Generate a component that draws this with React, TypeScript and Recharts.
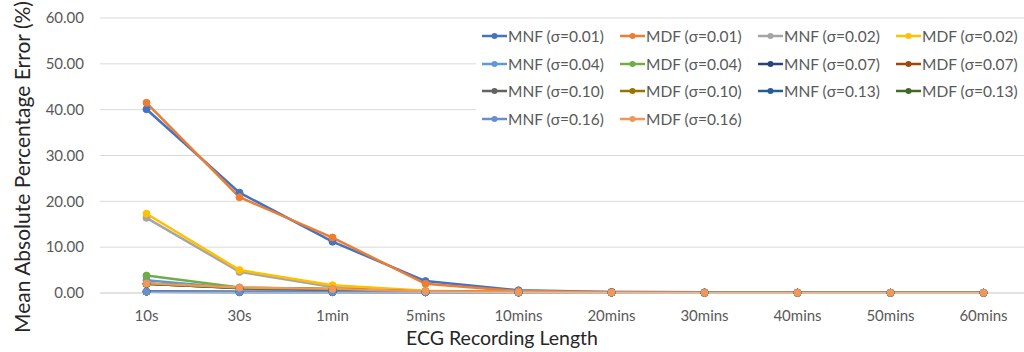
import React from 'react';
import { LineChart, Line, XAxis, YAxis, CartesianGrid } from 'recharts';

const lengths = ['10s', '30s', '1min', '5mins', '10mins', '20mins', '30mins', '40mins', '50mins', '60mins'];
const yTicks = [0, 10, 20, 30, 40, 50, 60];

const mnf001 = [40.1, 21.9, 11.2, 2.6, 0.6, 0.2, 0.15, 0.1, 0.05, 0.05];
const mdf001 = [41.5, 20.9, 12.1, 2.0, 0.4, 0.2, 0.15, 0.1, 0.05, 0.05];
const mnf002 = [16.4, 4.6, 1.3, 0.4, 0.2, 0.1, 0.1, 0.05, 0.05, 0.05];
const mdf002 = [17.3, 5.0, 1.7, 0.5, 0.2, 0.1, 0.1, 0.05, 0.05, 0.05];
const mnf004 = [2.8, 1.0, 0.6, 0.3, 0.1, 0.1, 0.05, 0.05, 0.05, 0.05];
const mdf004 = [3.8, 1.2, 0.8, 0.3, 0.15, 0.1, 0.05, 0.05, 0.05, 0.05];
const mnf007 = [0.3, 0.2, 0.2, 0.15, 0.1, 0.1, 0.05, 0.05, 0.05, 0.05];
const mdf007 = [2.0, 1.1, 0.8, 0.3, 0.15, 0.1, 0.05, 0.05, 0.05, 0.05];
const mnf010 = [0.3, 0.2, 0.2, 0.15, 0.1, 0.1, 0.05, 0.05, 0.05, 0.05];
const mdf010 = [2.0, 1.1, 0.8, 0.3, 0.15, 0.1, 0.05, 0.05, 0.05, 0.05];
const mnf013 = [0.3, 0.2, 0.2, 0.15, 0.1, 0.1, 0.05, 0.05, 0.05, 0.05];
const mdf013 = [2.0, 1.1, 0.8, 0.3, 0.15, 0.1, 0.05, 0.05, 0.05, 0.05];
const mnf016 = [0.3, 0.2, 0.2, 0.15, 0.1, 0.1, 0.05, 0.05, 0.05, 0.05];
const mdf016 = [2.1, 1.2, 0.9, 0.4, 0.2, 0.1, 0.05, 0.05, 0.05, 0.05];

const series = [
  { key: 'MNF (σ=0.01)', values: mnf001, color: '#4472C4' },
  { key: 'MDF (σ=0.01)', values: mdf001, color: '#ED7D31' },
  { key: 'MNF (σ=0.02)', values: mnf002, color: '#A5A5A5' },
  { key: 'MDF (σ=0.02)', values: mdf002, color: '#FFC000' },
  { key: 'MNF (σ=0.04)', values: mnf004, color: '#5B9BD5' },
  { key: 'MDF (σ=0.04)', values: mdf004, color: '#70AD47' },
  { key: 'MNF (σ=0.07)', values: mnf007, color: '#264478' },
  { key: 'MDF (σ=0.07)', values: mdf007, color: '#9E480E' },
  { key: 'MNF (σ=0.10)', values: mnf010, color: '#636363' },
  { key: 'MDF (σ=0.10)', values: mdf010, color: '#997300' },
  { key: 'MNF (σ=0.13)', values: mnf013, color: '#255E91' },
  { key: 'MDF (σ=0.13)', values: mdf013, color: '#43682B' },
  { key: 'MNF (σ=0.16)', values: mnf016, color: '#698ED0' },
  { key: 'MDF (σ=0.16)', values: mdf016, color: '#F1975A' },
];

const data = lengths.map((len, i) => {
  const row: Record<string, string | number> = { len };
  series.forEach((s) => { row[s.key] = s.values[i]; });
  return row;
});

const font = 'Lato, "Open Sans", sans-serif';

// legend sits on a white box over the top-right of the plot, like the original
const LegendBox = () => (
  <div style={{ position: 'absolute', left: 476, top: 27, width: 548, height: 104, paddingLeft: 6, boxSizing: 'border-box', display: 'grid', gridTemplateColumns: 'repeat(4, 138px)', gridAutoRows: 18, rowGap: 9.5, background: '#fff', fontFamily: font, fontSize: 15.5, color: '#595959' }}>
    {series.map((s) => (
      <div key={s.key} style={{ display: 'flex', alignItems: 'center', height: 18, whiteSpace: 'nowrap' }}>
        <svg width={25} height={10} style={{ marginRight: 1 }}>
          <line x1={0} y1={5} x2={25} y2={5} stroke={s.color} strokeWidth={2.5} />
          <circle cx={12.5} cy={5} r={3} fill={s.color} />
        </svg>
        {s.key}
      </div>
    ))}
  </div>
);

const YTitle = () => (
  <text
    transform="translate(21,167) rotate(-90)"
    textAnchor="middle"
    dominantBaseline="central"
    fill="#262626"
    fontSize={21}
    fontFamily={font}
  >
    Mean Absolute Percentage Error (%)
  </text>
);

export default function App() {
  return (
    <div style={{ position: 'absolute', left: 0, top: 0, width: 1024, height: 352, overflow: 'hidden', background: '#fff' }}>
      <LineChart width={1030} height={352} data={data} margin={{ top: 18, right: 0, left: 0, bottom: 0 }}>
        <CartesianGrid vertical={false} stroke="#d9d9d9" strokeWidth={1} />
        <XAxis
          dataKey="len"
          axisLine={{ stroke: '#d9d9d9' }}
          tickLine={false}
          tickMargin={11}
          interval={0}
          padding={{ left: 46.5, right: 46.5 }}
          tick={{ fill: '#595959', fontSize: 15, fontFamily: font }}
          height={59}
          label={{ value: 'ECG Recording Length', position: 'insideBottom', offset: 7, dx: -63, fill: '#262626', fontSize: 19.5, fontFamily: font }}
        />
        <YAxis
          domain={[0, 60]}
          ticks={yTicks}
          width={100}
          axisLine={false}
          tickLine={false}
          tickMargin={10}
          tickFormatter={(v: number) => v.toFixed(2)}
          tick={{ fill: '#595959', fontSize: 15, fontFamily: font }}
          label={<YTitle />}
        />
        {series.map((s) => (
          <Line
            key={s.key}
            dataKey={s.key}
            stroke={s.color}
            strokeWidth={2.5}
            dot={{ r: 3.5, fill: s.color, stroke: s.color, strokeWidth: 1 }}
            isAnimationActive={false}
          />
        ))}
      </LineChart>
      <LegendBox />
    </div>
  );
}
